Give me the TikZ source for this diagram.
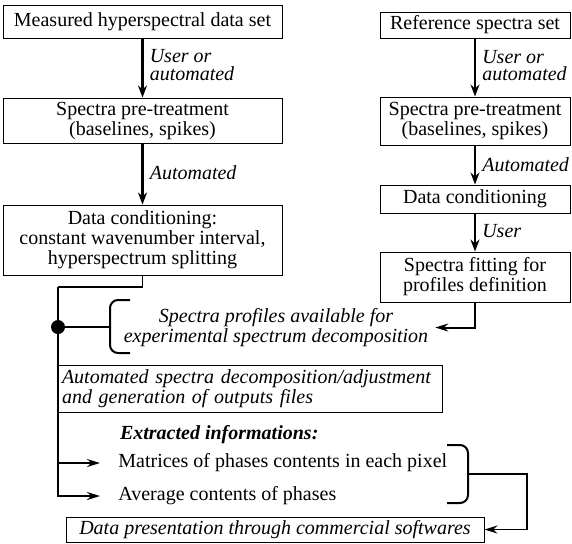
\documentclass[tikz,border=0pt]{standalone}
\usepackage{fontspec}
\setmainfont{Liberation Serif}
\usetikzlibrary{arrows.meta,positioning}

\begin{document}
\begin{tikzpicture}[x=0.5pt,y=-0.5pt,
  execute at begin picture={\fontsize{10}{10}\selectfont},
  box/.style={draw,line width=0.5pt,inner sep=1pt,align=center},
  lbl/.style={font={\fontsize{10}{8.6}\selectfont\itshape},align=left,anchor=west,inner sep=0pt,xshift=3pt},
  flow/.style={line width=1.3pt,-{Stealth[length=6pt,width=4.5pt]}},
  link/.style={line width=0.8pt},
  tip/.style={-{Stealth[length=6.5pt,width=4pt]}},
  brace/.style={line width=1pt,rounded corners=4pt}]
  \useasboundingbox (0,0) rectangle (572,543);
  % measured data column
  \node[box,minimum width=139.5pt,minimum height=16.5pt] (meas) at (142.5,21.5) {Measured hyperspectral data set};
  \node[box,minimum width=139.5pt,minimum height=22.5pt] (pre) at (142.5,120.5) {Spectra pre-treatment\\(baselines, spikes)};
  \node[box,minimum width=139.5pt,minimum height=35pt] (cond) at (142.5,240) {Data conditioning:\\constant wavenumber interval,\\hyperspectrum splitting};
  \draw[flow] (meas) -- (pre) node[lbl,pos=0.45] (lmeas) {User or\\automated};
  \draw[flow] (pre) -- (cond) node[lbl,pos=0.48] (lpre) {Automated};
  % reference column
  \node[box,minimum width=95pt,minimum height=13pt] (ref) at (475,25) {Reference spectra set};
  \node[box,minimum width=95pt,minimum height=24pt] (rpre) at (475,121) {Spectra pre-treatment\\(baselines, spikes)};
  \node[box,minimum width=95pt,minimum height=14pt] (rcond) at (475,199) {Data conditioning};
  \node[box,minimum width=95pt,minimum height=25pt] (fit) at (475,277) {Spectra fitting for\\profiles definition};
  \draw[flow] (ref) -- (rpre) node[lbl,pos=0.46] (lref) {User or\\automated};
  \draw[flow] (rpre) -- (rcond) node[lbl,pos=0.5] (lrpre) {Automated};
  \draw[flow] (rcond) -- (fit) node[lbl,pos=0.45] (lrcond) {User};
  % decomposition
  \coordinate (split) at (58,287);
  \coordinate (dot) at (58,327);
  \node[font=\itshape,align=center] (prof) at (276,327.5) {Spectra profiles available for\\experimental spectrum decomposition};
  \node[box,align=left,text width=188pt,inner xsep=2pt,minimum height=23.5pt,font=\itshape] (auto) at (250,388.5)
    {Automated spectra decomposition/adjustment\\and generation of outputs files};
  \node[anchor=west,font=\bfseries\itshape] (extr) at (113,435) {Extracted informations:};
  \node[anchor=west,inner xsep=9pt] (mat) at (100,463) {Matrices of phases contents in each pixel};
  \node[anchor=west,inner xsep=9pt] (avg) at (100,496) {Average contents of phases};
  \node[box,minimum width=209pt,minimum height=12.5pt,font=\itshape] (pres) at (275,529.5) {Data presentation through commercial softwares};
  \draw[link] (cond.south) |- (split);
  \draw[line width=1pt,tip] (split) |- (avg.west);
  \draw[link,tip] (mat.west -| split) -- (mat.west);
  \fill (dot) circle (3.5pt);
  \draw[link] (dot) -- (110,327);
  \draw[brace] (130,300) -- (110,300) -- (110,353) -- (130,353);
  \draw[link,line width=1pt,tip] (fit.south) |- (prof.east);
  % outputs
  \draw[brace] (447,445) -- (468,445) -- (468,503) -- (447,503);
  \coordinate (brR) at (468,474);
  \draw[link,tip] (brR) -- (527,474) |- (pres.east);
\end{tikzpicture}
\end{document}
